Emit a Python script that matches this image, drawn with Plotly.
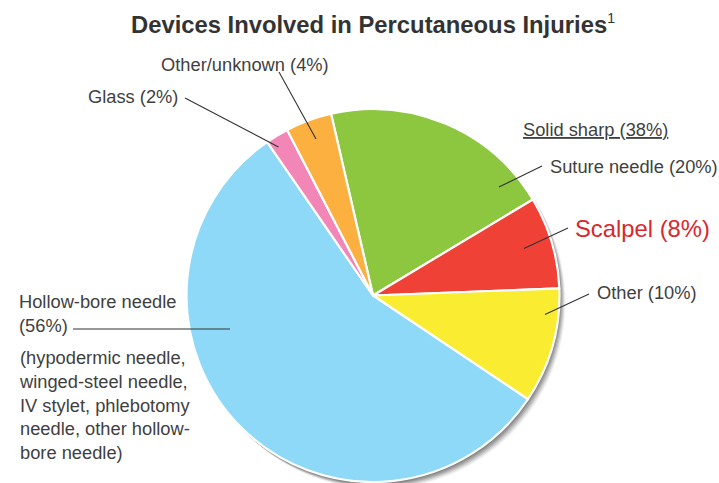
import plotly.graph_objects as go

# ---- data ----
categories = ["Suture needle", "Scalpel", "Other", "Hollow-bore needle", "Glass", "Other/unknown"]
percent = [20, 8, 10, 56, 2, 4]
slice_colors = ["#8DC63F", "#EF4136", "#F9EC31", "#8ED8F8", "#F287B7", "#FBB040"]

title_text = ("<b>Devices Involved in Percutaneous Injuries</b>"
              "<sup><span style='font-size:14px'>1</span></sup>")
label_other_unknown = "Other/unknown (4%)"
label_glass = "Glass (2%)"
label_solid = "Solid sharp (38%)"
label_suture = "Suture needle (20%)"
label_scalpel = "Scalpel (8%)"
label_other = "Other (10%)"
label_hollow = "Hollow-bore needle<br>(56%)"
label_hollow_detail = ("(hypodermic needle,<br>winged-steel needle,<br>IV stylet, phlebotomy"
                       "<br>needle, other hollow-<br>bore needle)")

W, H = 719, 483
FONT = "Liberation Sans, Arial, sans-serif"
TXT = "#3f3f3f"
LS = 18.3


def px(x):
    return x / W


def py(y):
    return 1 - y / H


# pie geometry (pixels)
cx, cy, r = 373, 295.5, 186.5

fig = go.Figure()
fig.add_trace(go.Pie(
    labels=categories, values=percent, sort=False, direction="clockwise",
    rotation=-13, marker=dict(colors=slice_colors, line=dict(color="white", width=2.2)),
    textinfo="none", hoverinfo="skip", showlegend=False,
    domain=dict(x=[px(cx - r), px(cx + r)], y=[py(cy + r), py(cy - r)]),
))

shapes = []
# soft shadow
for dx, dy, op in [(1, 2, 0.12), (2, 3, 0.12), (3, 4, 0.12), (4, 5, 0.10), (5, 6, 0.08), (6, 7, 0.05)]:
    shapes.append(dict(type="circle", xref="paper", yref="paper", layer="below",
                       x0=px(cx - r + dx), x1=px(cx + r + dx),
                       y0=py(cy + r + dy), y1=py(cy - r + dy),
                       fillcolor=f"rgba(0,0,0,{op})", line=dict(width=0)))

leaders = [
    ((279, 72), (316, 139)),
    ((185, 98), (278.5, 147)),
    ((542, 166), (499, 187)),
    ((568, 228), (524, 248.5)),
    ((589, 294), (545, 314.5)),
    ((73, 329), (230, 329)),
]
for (x0, y0), (x1, y1) in leaders:
    shapes.append(dict(type="line", xref="paper", yref="paper",
                       x0=px(x0), y0=py(y0), x1=px(x1), y1=py(y1),
                       line=dict(color="#333333", width=1.1)))


def ann(text, x, y, xanchor, size=LS, color=TXT, align="left", **fontkw):
    return dict(text=text, x=px(x), y=py(y), xref="paper", yref="paper",
                xanchor=xanchor, yanchor="middle", showarrow=False, align=align,
                font=dict(family=FONT, size=size, color=color, **fontkw))


annotations = [
    ann(title_text, 373, 24, "center", size=23.8, color="#333333"),
    ann(label_other_unknown, 245, 64.5, "center"),
    ann(label_glass, 179.5, 96.5, "right"),
    ann(label_solid, 520.5, 129.5, "left", lineposition="under"),
    ann(label_suture, 547.5, 166, "left"),
    ann(label_scalpel, 572.5, 228.5, "left", size=23.8, color="#D9272E"),
    ann(label_other, 594.5, 292.5, "left"),
    ann(label_hollow, 16.5, 313, "left"),
    ann(label_hollow_detail, 16.5, 405, "left"),
]

fig.update_layout(
    width=W, height=H, margin=dict(l=0, r=0, t=0, b=0),
    paper_bgcolor="white", plot_bgcolor="white",
    shapes=shapes, annotations=annotations, showlegend=False,
)

fig.write_html("out.html", config={"displayModeBar": False},
               post_script="document.body.style.margin='0';document.body.style.overflow='hidden';")
